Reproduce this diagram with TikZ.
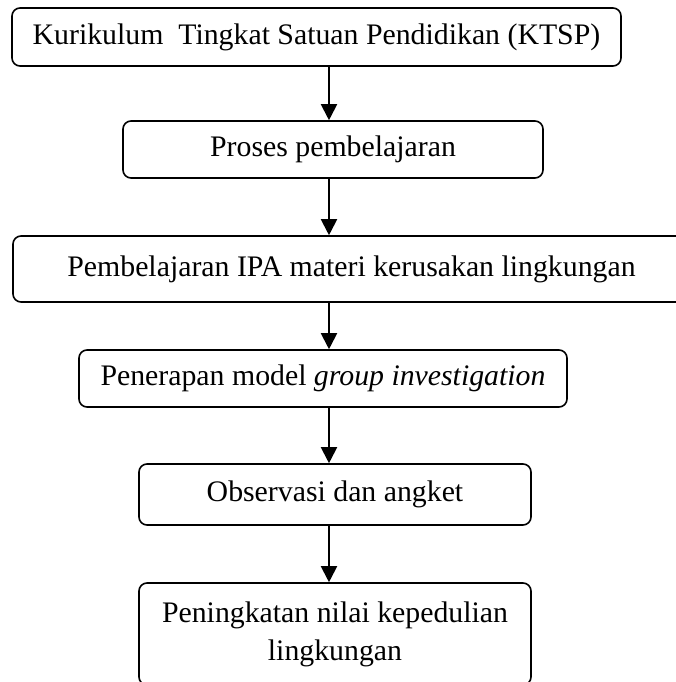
\documentclass[tikz,border=0pt]{standalone}
\usepackage{fontspec}
\setmainfont{Liberation Serif}
\usetikzlibrary{arrows.meta}
\begin{document}
\begin{tikzpicture}[x=0.5pt,y=-0.5pt,
  box/.style={draw, line width=0.8pt, rounded corners=4pt, inner sep=0pt, anchor=center,
    font=\fontsize{14.9}{19}\selectfont, align=center},
  arr/.style={line width=1pt, -{Triangle[length=8pt,width=8pt]}}]
\clip (0,0) rectangle (676,682);
\useasboundingbox (0,0) rectangle (676,682);
\coordinate (ax) at (329,0);
\node[box, minimum width=304.5pt, minimum height=29pt] (b1) at (316.5,37)
  {Kurikulum\ \ Tingkat Satuan Pendidikan (KTSP)};
\node[box, minimum width=210pt, minimum height=28.5pt] (b2) at (333,149.5)
  {Proses pembelajaran};
\node[box, minimum width=338.5pt, minimum height=33pt] (b3) at (351.5,269)
  {Pembelajaran IPA materi kerusakan lingkungan};
\node[box, minimum width=244pt, minimum height=28.5pt] (b4) at (323,378.5)
  {Penerapan model \textit{group investigation}};
\node[box, minimum width=196pt, minimum height=30.5pt] (b5) at (335,494.5)
  {Observasi dan angket};
\node[box, minimum width=196pt, minimum height=51pt] (b6) at (335,634)
  {Peningkatan nilai kepedulian\\lingkungan};
\draw[arr] (b1.south -| ax) -- (b2.north -| ax);
\draw[arr] (b2.south -| ax) -- (b3.north -| ax);
\draw[arr] (b3.south -| ax) -- (b4.north -| ax);
\draw[arr] (b4.south -| ax) -- (b5.north -| ax);
\draw[arr] (b5.south -| ax) -- (b6.north -| ax);
\end{tikzpicture}
\end{document}
